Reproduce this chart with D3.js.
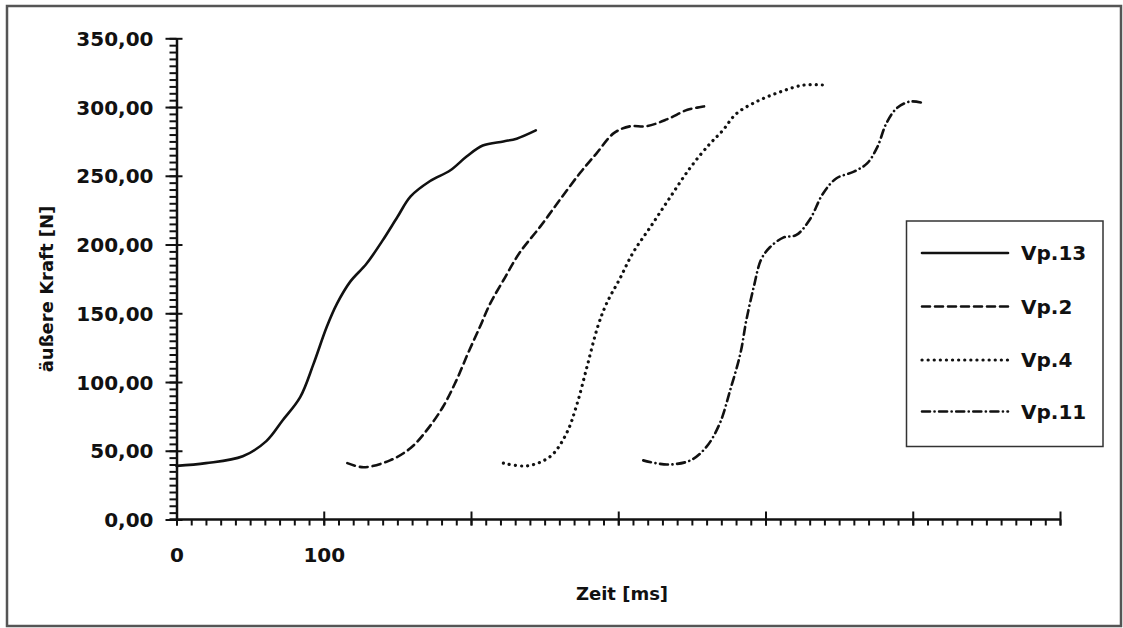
<!DOCTYPE html>
<html>
<head>
<meta charset="utf-8">
<script src="https://cdnjs.cloudflare.com/ajax/libs/d3/7.8.5/d3.min.js"></script>
<style>
  body { margin: 0; background: #fff; }
  svg { display: block; }
  text { font-family: "DejaVu Sans", sans-serif; font-weight: bold; fill: #111; }
</style>
</head>
<body>
<svg id="chart" width="1123" height="628"></svg>
<script>
// series: [time ms, force N]
var vp13 = [[0,39],[20,41],[45,46],[61,57],[72,72],[84,89],[93,113],[102,140],[109,157],
  [118,173],[129,186],[140,203],[150,220],[159,235],[172,246],[186,254],[197,264],
  [208,272],[222,275],[231,277],[244,283]];
var vp2 = [[116,41],[127,38],[145,43],[159,52],[170,65],[181,82],[190,101],[198,121],
  [206,140],[213,157],[222,174],[233,194],[247,213],[260,232],[274,252],[285,266],
  [297,281],[308,286],[319,286],[333,291],[347,298],[356,300],[361,301]];
var vp4 = [[222,41],[238,39],[254,46],[265,63],[272,84],[279,112],[286,140],[292,157],
  [301,175],[310,194],[322,213],[335,234],[349,256],[362,273],[371,283],[380,295],
  [394,304],[410,311],[426,316],[439,316]];
var vp11 = [[317,43],[333,40],[349,43],[360,53],[369,70],[376,94],[383,121],[387,145],
  [392,169],[397,189],[403,198],[412,205],[421,207],[430,218],[439,237],[448,248],
  [460,253],[469,259],[476,271],[482,288],[489,299],[498,304],[507,303]];

var seriesNames = ["Vp.13", "Vp.2", "Vp.4", "Vp.11"];
var seriesData = [vp13, vp2, vp4, vp11];
// line styles per series (solid, dashed, dotted, dash-dot)
var dashes = [null, "8,5", "0.1,6", "8,4.5,0.1,4.5"];

var yMajor = d3.range(0, 351, 50);
var yMinor = d3.range(0, 351, 5);
var xMajor = d3.range(0, 601, 100);
var xMinor = d3.range(0, 601, 10);
var xTickLabels = ["0", "100"];

var svg = d3.select("#chart");

// scanned page frame
svg.append("rect")
  .attr("x", 7).attr("y", 6).attr("width", 1114).attr("height", 620)
  .attr("fill", "none").attr("stroke", "#555").attr("stroke-width", 2.5);

var x = d3.scaleLinear().domain([0, 600]).range([176.5, 1060]);
var y = d3.scaleLinear().domain([0, 350]).range([519.5, 38.3]);

var de = d3.formatLocale({decimal: ",", thousands: ".", grouping: [3], currency: ["", " €"]});
var fmt = de.format(".2f");

// y axis: minor ticks first, then major with labels
svg.append("g")
  .attr("transform", "translate(" + x(0) + ",0)")
  .call(d3.axisLeft(y).tickValues(yMinor).tickSize(7).tickSizeOuter(0).tickFormat(""))
  .call(function(g) { g.select(".domain").remove(); })
  .selectAll("line").attr("stroke", "#111").attr("stroke-width", 2);

var yAxis = svg.append("g")
  .attr("transform", "translate(" + x(0) + ",0)")
  .call(d3.axisLeft(y).tickValues(yMajor).tickSize(11).tickSizeOuter(0).tickPadding(12).tickFormat(fmt));
yAxis.selectAll(".tick line").attr("x1", 6).attr("stroke", "#111").attr("stroke-width", 2);
yAxis.select(".domain").attr("stroke", "#111").attr("stroke-width", 2.5);
yAxis.selectAll("text").attr("font-size", 20).attr("dy", "0.36em");

// x axis
svg.append("g")
  .attr("transform", "translate(0," + y(0) + ")")
  .call(d3.axisBottom(x).tickValues(xMinor).tickSize(6).tickSizeOuter(0).tickFormat(""))
  .call(function(g) { g.select(".domain").remove(); })
  .selectAll("line").attr("stroke", "#111").attr("stroke-width", 2);

var xAxis = svg.append("g")
  .attr("transform", "translate(0," + y(0) + ")")
  .call(d3.axisBottom(x).tickValues(xMajor).tickSize(6).tickSizeOuter(0).tickPadding(22)
    .tickFormat(function(d, i) { return i < xTickLabels.length ? xTickLabels[i] : ""; }));
xAxis.selectAll(".tick line").attr("y1", -8).attr("stroke", "#111").attr("stroke-width", 2);
xAxis.select(".domain").attr("stroke", "#111").attr("stroke-width", 2.5)
  .attr("d", "M" + (x(0) - 7) + ",0H" + x(600));
xAxis.selectAll("text").attr("font-size", 20);

// axis titles
svg.append("text")
  .attr("x", 622).attr("y", 600)
  .attr("text-anchor", "middle").attr("font-size", 18)
  .text("Zeit [ms]");

svg.append("text")
  .attr("transform", "translate(53,289) rotate(-90)")
  .attr("text-anchor", "middle").attr("font-size", 18)
  .text("äußere Kraft [N]");

// curves
var line = d3.line()
  .x(function(d) { return x(d[0]); })
  .y(function(d) { return y(d[1]); })
  .curve(d3.curveCatmullRom.alpha(0.5));

svg.selectAll(".series")
  .data(seriesData)
  .enter().append("path")
  .attr("class", "series")
  .attr("d", line)
  .attr("fill", "none")
  .attr("stroke", "#111")
  .attr("stroke-width", function(d, i) { return i === 2 ? 3.2 : 2.6; })
  .attr("stroke-linecap", "round")
  .attr("stroke-dasharray", function(d, i) { return dashes[i]; });

// legend
var legend = svg.append("g");
legend.append("rect")
  .attr("x", 906.5).attr("y", 221).attr("width", 196.5).attr("height", 225.5)
  .attr("fill", "#fff").attr("stroke", "#333").attr("stroke-width", 1.5);

var rows = legend.selectAll(".row")
  .data(seriesNames)
  .enter().append("g")
  .attr("class", "row")
  .attr("transform", function(d, i) { return "translate(0," + [253, 306.5, 360, 411.5][i] + ")"; });

rows.append("line")
  .attr("x1", 922).attr("x2", 1008)
  .attr("stroke", "#111")
  .attr("stroke-width", function(d, i) { return i === 2 ? 3.2 : 2.6; })
  .attr("stroke-linecap", "round")
  .attr("stroke-dasharray", function(d, i) { return dashes[i]; });

rows.append("text")
  .attr("x", 1021).attr("dy", "0.36em")
  .attr("font-size", 20)
  .text(function(d) { return d; });
</script>
</body>
</html>
